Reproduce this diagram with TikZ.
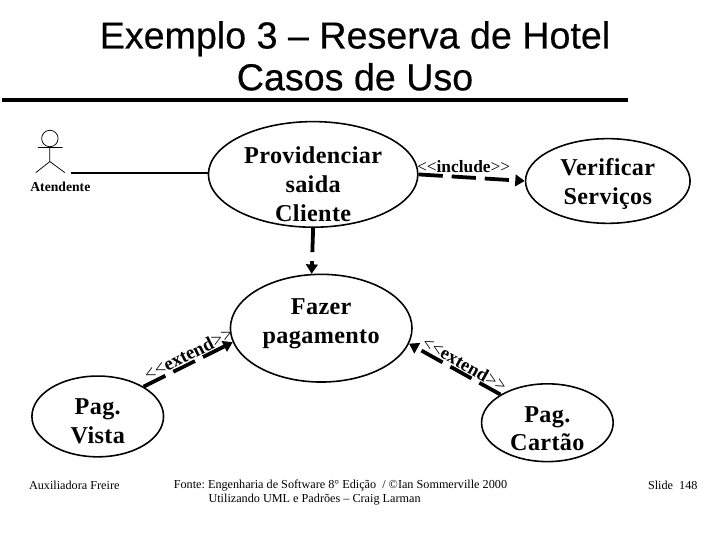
\documentclass[tikz,border=0pt]{standalone}
\usepackage{fontspec}
\setmainfont{Liberation Serif}
\newfontfamily\titlefont[FakeBold=0.4]{Liberation Sans}
\usetikzlibrary{arrows.meta, positioning, calc, shapes.geometric}
\definecolor{ink}{HTML}{000000}
\frenchspacing
\tikzset{
  usecase/.style={draw=ink, ellipse, line width=1.5pt, inner sep=0pt},
  casetext/.style={align=center, text=ink, inner sep=0pt,
    font=\fontsize{23}{27.5}\selectfont\bfseries\addfontfeature{LetterSpace=1.5}},
  heading/.style={font=\titlefont\fontsize{35.8}{39.8}\selectfont, text=ink, align=center},
  footnote/.style={font=\fontsize{11.6}{13}\selectfont, text=ink, anchor=west},
  flow/.style={line width=3.6pt, dash pattern=on 23pt off 8.5pt, -{Triangle[length=9pt,width=11pt]}},
  stereo/.style={font=\fontsize{16.5}{18}\selectfont\bfseries, text=ink, inner sep=0pt},
  limb/.style={line width=0.7pt},
}
\newcommand{\tagged}[1]{{\mdseries<{}<}#1{\mdseries>{}>}}
\begin{document}
\begin{tikzpicture}
    \fill[white] (0,0) rectangle (24,18);

    % heading
    \node[heading] (title) at (11.8, 16.13) {Exemplo 3 – Reserva de Hotel\\Casos de Uso};
    \coordinate (ruleL) at (0, 14.67);
    \coordinate (ruleR) at (20.93, 14.67);
    \draw[ink, line width=3.8pt] (ruleL) -- (ruleR);

    % use cases
    \node[usecase, minimum width=7cm, minimum height=3.53cm] (prov) at (10.4, 12.17) {};
    \node[usecase, minimum width=5.5cm, minimum height=2.83cm] (verif) at (20.25, 11.95) {};
    \node[usecase, minimum width=6.07cm, minimum height=3.6cm] (fazer) at (10.67, 7.03) {};
    \node[usecase, minimum width=4.4cm, minimum height=2.7cm] (vista) at (3.2, 4.08) {};
    \node[usecase, minimum width=4.4cm, minimum height=2.6cm] (cartao) at (18.23, 3.87) {};
    \node[casetext] (provtext) at (10.4, 11.83) {Providenciar\\saida\\Cliente};
    \node[casetext] (veriftext) at (20.25, 11.85) {Verificar\\Serviços};
    \node[casetext] (fazertext) at (10.67, 7.18) {Fazer\\pagamento};
    \node[casetext] (vistatext) at (3.2, 3.93) {Pag.\\Vista};
    \node[casetext] (cartaotext) at (18.23, 3.67) {Pag.\\Cartão};

    % actor
    \node[draw=ink, limb, circle, minimum size=0.55cm, inner sep=0pt] (head) at (1.6, 13.37) {};
    \coordinate (hip) at (1.6, 12.6);
    \coordinate (armL) at (1.2, 13.07);
    \coordinate (armR) at (2.03, 13.07);
    \coordinate (footL) at (1.13, 12.23);
    \coordinate (footR) at (2.1, 12.23);
    \coordinate (hand) at (2.3, 12.23);
    \draw[ink, limb] (head) -- (hip) (armL) -- (armR) (footL) -- (hip) -- (footR);
    \node[font=\fontsize{13}{15}\selectfont\bfseries, text=ink] (actor) at (1.95, 11.77) {Atendente};
    \draw[ink, line width=2pt] (hand) -- (prov.west |- hand);

    % connectors
    \draw[flow] (prov.south) -- (fazer.100);
    \draw[flow] (prov.east) -- (verif.west);
    \draw[flow] (vista.33) -- (fazer.189);
    \draw[flow] (cartao.149) -- (fazer.-10);

    % stereotypes
    \node[stereo] (inc) at (15.43, 12.43) {\tagged{include}};
    \node[stereo, rotate=26.6, font=\fontsize{18}{20}\selectfont\bfseries] (extL) at (6.23, 6.17) {\tagged{extend}};
    \node[stereo, rotate=-29.6, font=\fontsize{17.5}{20}\selectfont\bfseries] (extR) at (15.47, 5.83) {\tagged{extend}};

    % footer
    \node[footnote] (author) at (0.78, 1.77) {Auxiliadora Freire};
    \node[footnote] (source) at (5.62, 1.77) {Fonte: Engenharia de Software 8° Edição\ \ / ©Ian Sommerville 2000};
    \node[footnote] (source2) at (6.78, 1.3) {Utilizando UML e Padrões – Craig Larman};
    \node[footnote] (slide) at (21.47, 1.77) {Slide\ \ 148};
    \useasboundingbox (0,0) rectangle (24,18);
  \end{tikzpicture}
\end{document}
